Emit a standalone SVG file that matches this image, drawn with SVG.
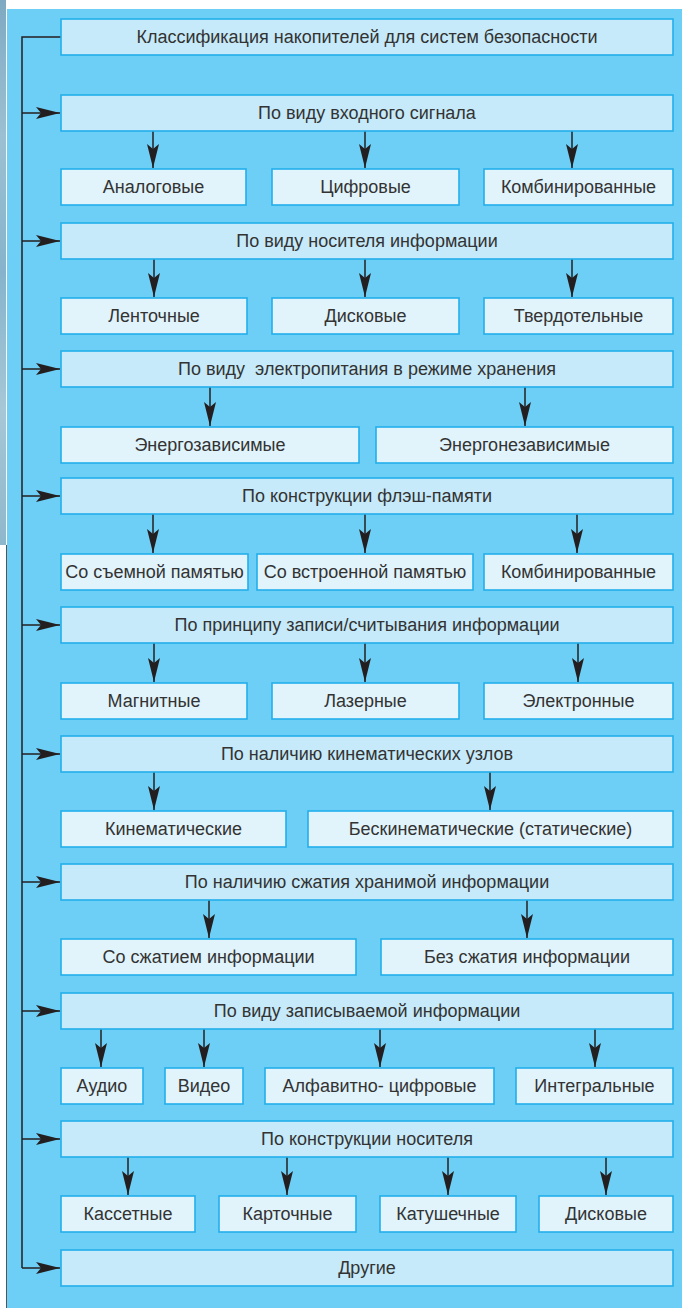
<svg xmlns="http://www.w3.org/2000/svg" width="682" height="1308" viewBox="0 0 682 1308">
<style>
.bg{fill:#6dcff6}
.cat{fill:#c6eaf9;stroke:#22aeea;stroke-width:1.6}
.leaf{fill:#e1f4fc;stroke:#22aeea;stroke-width:1.6}
text{font-family:"Liberation Sans",Arial,sans-serif;font-size:18px;fill:#333;text-anchor:middle;white-space:pre}
.ln{stroke:#231f20;stroke-width:1.5;fill:none}
</style>
<defs>
<linearGradient id="photo" x1="0" y1="0" x2="0" y2="1">
<stop offset="0" stop-color="#7fa9c2"/>
<stop offset="0.25" stop-color="#9cc0d2"/>
<stop offset="0.5" stop-color="#86b3cb"/>
<stop offset="0.75" stop-color="#a6c7d6"/>
<stop offset="1" stop-color="#8fb7cb"/>
</linearGradient>
<marker id="ah" viewBox="0 0 24 12" refX="24" refY="6" markerWidth="24" markerHeight="12" markerUnits="userSpaceOnUse" orient="auto">
<path d="M0,0 L24,6 L0,12 L5,6 Z" fill="#231f20"/>
</marker>
</defs>
<rect x="0" y="0" width="682" height="1308" fill="#ffffff"/>
<rect class="bg" x="7" y="9" width="675" height="1299"/>
<rect x="0" y="0" width="6" height="545" fill="url(#photo)"/>
<line x1="6.5" y1="545" x2="6.5" y2="1308" stroke="#555" stroke-width="1"/>

<g id="connectors">
<path class="ln" d="M61,37 H22 V1268"/>
<line class="ln" x1="22" y1="113" x2="60" y2="113" marker-end="url(#ah)"/>
<line class="ln" x1="22" y1="241" x2="60" y2="241" marker-end="url(#ah)"/>
<line class="ln" x1="22" y1="369" x2="60" y2="369" marker-end="url(#ah)"/>
<line class="ln" x1="22" y1="496" x2="60" y2="496" marker-end="url(#ah)"/>
<line class="ln" x1="22" y1="625" x2="60" y2="625" marker-end="url(#ah)"/>
<line class="ln" x1="22" y1="754" x2="60" y2="754" marker-end="url(#ah)"/>
<line class="ln" x1="22" y1="882" x2="60" y2="882" marker-end="url(#ah)"/>
<line class="ln" x1="22" y1="1011" x2="60" y2="1011" marker-end="url(#ah)"/>
<line class="ln" x1="22" y1="1139" x2="60" y2="1139" marker-end="url(#ah)"/>
<line class="ln" x1="22" y1="1268" x2="60" y2="1268" marker-end="url(#ah)"/>

<line class="ln" x1="153" y1="131" x2="153" y2="168" marker-end="url(#ah)"/>
<line class="ln" x1="365" y1="131" x2="365" y2="168" marker-end="url(#ah)"/>
<line class="ln" x1="572" y1="131" x2="572" y2="168" marker-end="url(#ah)"/>

<line class="ln" x1="154" y1="259" x2="154" y2="297" marker-end="url(#ah)"/>
<line class="ln" x1="365" y1="259" x2="365" y2="297" marker-end="url(#ah)"/>
<line class="ln" x1="572" y1="259" x2="572" y2="297" marker-end="url(#ah)"/>

<line class="ln" x1="210" y1="387" x2="210" y2="426" marker-end="url(#ah)"/>
<line class="ln" x1="525" y1="387" x2="525" y2="426" marker-end="url(#ah)"/>

<line class="ln" x1="153" y1="514" x2="153" y2="553" marker-end="url(#ah)"/>
<line class="ln" x1="365" y1="514" x2="365" y2="553" marker-end="url(#ah)"/>
<line class="ln" x1="577" y1="514" x2="577" y2="553" marker-end="url(#ah)"/>

<line class="ln" x1="154" y1="643" x2="154" y2="682" marker-end="url(#ah)"/>
<line class="ln" x1="365" y1="643" x2="365" y2="682" marker-end="url(#ah)"/>
<line class="ln" x1="578" y1="643" x2="578" y2="682" marker-end="url(#ah)"/>

<line class="ln" x1="154" y1="772" x2="154" y2="810" marker-end="url(#ah)"/>
<line class="ln" x1="490" y1="772" x2="490" y2="810" marker-end="url(#ah)"/>

<line class="ln" x1="209" y1="900" x2="209" y2="938" marker-end="url(#ah)"/>
<line class="ln" x1="527" y1="900" x2="527" y2="938" marker-end="url(#ah)"/>

<line class="ln" x1="101" y1="1029" x2="101" y2="1067" marker-end="url(#ah)"/>
<line class="ln" x1="204" y1="1029" x2="204" y2="1067" marker-end="url(#ah)"/>
<line class="ln" x1="380" y1="1029" x2="380" y2="1067" marker-end="url(#ah)"/>
<line class="ln" x1="595" y1="1029" x2="595" y2="1067" marker-end="url(#ah)"/>

<line class="ln" x1="128" y1="1157" x2="128" y2="1195" marker-end="url(#ah)"/>
<line class="ln" x1="287" y1="1157" x2="287" y2="1195" marker-end="url(#ah)"/>
<line class="ln" x1="448" y1="1157" x2="448" y2="1195" marker-end="url(#ah)"/>
<line class="ln" x1="606" y1="1157" x2="606" y2="1195" marker-end="url(#ah)"/>
</g>

<g id="title"><rect class="cat" x="61" y="19" width="612" height="36"/><text x="367" y="43">Классификация накопителей для систем безопасности</text></g>

<g id="cat1"><rect class="cat" x="61" y="95" width="612" height="36"/><text x="367" y="119">По виду входного сигнала</text></g>
<g id="c1a"><rect class="leaf" x="61" y="169" width="185" height="36"/><text x="153.5" y="193">Аналоговые</text></g>
<g id="c1b"><rect class="leaf" x="272" y="169" width="187" height="36"/><text x="365.5" y="193">Цифровые</text></g>
<g id="c1c"><rect class="leaf" x="484" y="169" width="189" height="36"/><text x="578.5" y="193">Комбинированные</text></g>

<g id="cat2"><rect class="cat" x="61" y="223" width="612" height="36"/><text x="367" y="247">По виду носителя информации</text></g>
<g id="c2a"><rect class="leaf" x="61" y="298" width="186" height="36"/><text x="154" y="322">Ленточные</text></g>
<g id="c2b"><rect class="leaf" x="272" y="298" width="187" height="36"/><text x="365.5" y="322">Дисковые</text></g>
<g id="c2c"><rect class="leaf" x="484" y="298" width="189" height="36"/><text x="578.5" y="322">Твердотельные</text></g>

<g id="cat3"><rect class="cat" x="61" y="351" width="612" height="36"/><text x="367" y="375" xml:space="preserve">По виду  электропитания в режиме хранения</text></g>
<g id="c3a"><rect class="leaf" x="61" y="427" width="298" height="36"/><text x="210" y="451">Энергозависимые</text></g>
<g id="c3b"><rect class="leaf" x="376" y="427" width="297" height="36"/><text x="524.5" y="451">Энергонезависимые</text></g>

<g id="cat4"><rect class="cat" x="61" y="478" width="612" height="36"/><text x="367" y="502">По конструкции флэш-памяти</text></g>
<g id="c4a"><rect class="leaf" x="61" y="554" width="187" height="36"/><text x="154.5" y="578">Со съемной памятью</text></g>
<g id="c4b"><rect class="leaf" x="257" y="554" width="216" height="36"/><text x="365" y="578">Со встроенной памятью</text></g>
<g id="c4c"><rect class="leaf" x="484" y="554" width="189" height="36"/><text x="578.5" y="578">Комбинированные</text></g>

<g id="cat5"><rect class="cat" x="61" y="607" width="612" height="36"/><text x="367" y="631">По принципу записи/считывания информации</text></g>
<g id="c5a"><rect class="leaf" x="61" y="683" width="186" height="36"/><text x="154" y="707">Магнитные</text></g>
<g id="c5b"><rect class="leaf" x="272" y="683" width="187" height="36"/><text x="365.5" y="707">Лазерные</text></g>
<g id="c5c"><rect class="leaf" x="484" y="683" width="189" height="36"/><text x="578.5" y="707">Электронные</text></g>

<g id="cat6"><rect class="cat" x="61" y="736" width="612" height="36"/><text x="367" y="760">По наличию кинематических узлов</text></g>
<g id="c6a"><rect class="leaf" x="61" y="811" width="225" height="36"/><text x="173.5" y="835">Кинематические</text></g>
<g id="c6b"><rect class="leaf" x="308" y="811" width="365" height="36"/><text x="490.5" y="835">Бескинематические (статические)</text></g>

<g id="cat7"><rect class="cat" x="61" y="864" width="612" height="36"/><text x="367" y="888">По наличию сжатия хранимой информации</text></g>
<g id="c7a"><rect class="leaf" x="61" y="939" width="295" height="36"/><text x="208.5" y="963">Со сжатием информации</text></g>
<g id="c7b"><rect class="leaf" x="381" y="939" width="292" height="36"/><text x="527" y="963">Без сжатия информации</text></g>

<g id="cat8"><rect class="cat" x="61" y="993" width="612" height="36"/><text x="367" y="1017">По виду записываемой информации</text></g>
<g id="c8a"><rect class="leaf" x="61" y="1068" width="82" height="36"/><text x="102" y="1092">Аудио</text></g>
<g id="c8b"><rect class="leaf" x="165" y="1068" width="78" height="36"/><text x="204" y="1092">Видео</text></g>
<g id="c8c"><rect class="leaf" x="265" y="1068" width="229" height="36"/><text x="379.5" y="1092">Алфавитно- цифровые</text></g>
<g id="c8d"><rect class="leaf" x="516" y="1068" width="157" height="36"/><text x="594.5" y="1092">Интегральные</text></g>

<g id="cat9"><rect class="cat" x="61" y="1121" width="612" height="36"/><text x="367" y="1145">По конструкции носителя</text></g>
<g id="c9a"><rect class="leaf" x="61" y="1196" width="134" height="36"/><text x="128" y="1220">Кассетные</text></g>
<g id="c9b"><rect class="leaf" x="219" y="1196" width="137" height="36"/><text x="287.5" y="1220">Карточные</text></g>
<g id="c9c"><rect class="leaf" x="380" y="1196" width="136" height="36"/><text x="448" y="1220">Катушечные</text></g>
<g id="c9d"><rect class="leaf" x="539" y="1196" width="134" height="36"/><text x="606" y="1220">Дисковые</text></g>

<g id="other"><rect class="cat" x="61" y="1250" width="612" height="36"/><text x="367" y="1274">Другие</text></g>
</svg>
